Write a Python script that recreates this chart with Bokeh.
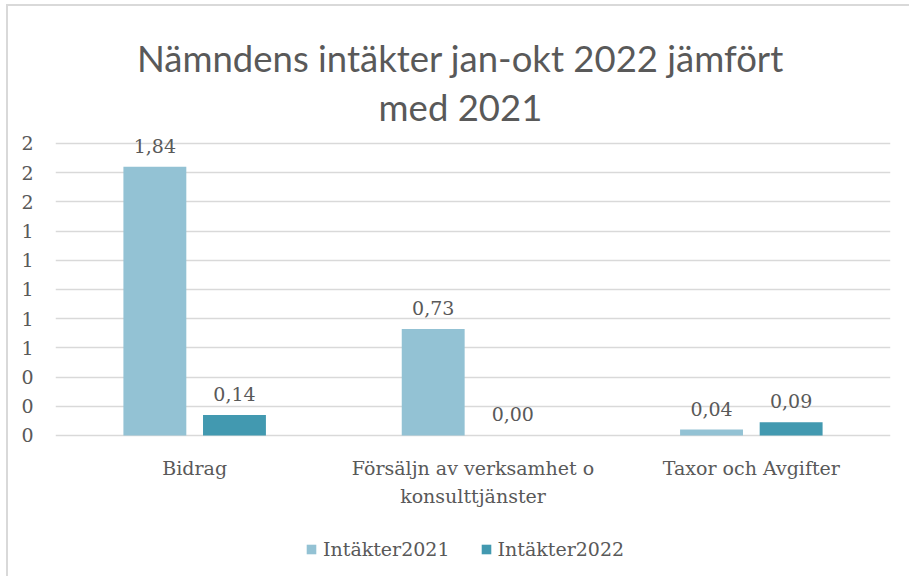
from bokeh.plotting import figure
from bokeh.models import (ColumnDataSource, FixedTicker, Range1d, Legend, LegendItem)
from bokeh.embed import file_html
from bokeh.resources import INLINE
from bokeh.core.properties import value

categories = ["Bidrag", "Försäljn av verksamhet o\nkonsulttjänster", "Taxor och Avgifter"]
series_names = ["Intäkter2021", "Intäkter2022"]
values_2021 = [1.84, 0.73, 0.04]
values_2022 = [0.14, 0.00, 0.09]
y_ticks = [0.0, 0.2, 0.4, 0.6, 0.8, 1.0, 1.2, 1.4, 1.6, 1.8, 2.0]
y_tick_labels = ["0", "0", "0", "1", "1", "1", "1", "1", "2", "2", "2"]
title_lines = ["Nämndens intäkter jan-okt 2022 jämfört", "med 2021"]

C1 = "#93C2D4"
C2 = "#4299B0"
TXT = "#595959"
GRID = "#D9D9D9"
SERIF = "DejaVu Serif"
TITLE_FONT = "Lato"
FS = "19px"

xc = [i + 0.5 for i in range(len(categories))]
off = 0.143
bw = 0.226

# The frame spans the whole canvas height: the value axis runs 0..2 in the middle,
# the space above holds the title and the space below the category labels + legend.
p = figure(frame_width=835, frame_height=570, output_backend="svg", toolbar_location=None,
           x_range=Range1d(0, 3), y_range=Range1d(-0.966, 2.938),
           min_border_left=47, min_border_right=24, min_border_top=0, min_border_bottom=0)
p.styles = {"border-left": "2px solid #D9D9D9", "border-top": "2px solid #D9D9D9",
            "margin-left": "6px", "margin-top": "4px"}
p.outline_line_color = None
p.background_fill_color = "white"
p.border_fill_color = "white"

src1 = ColumnDataSource(dict(x=[x - off for x in xc], top=values_2021,
                             lab=[f"{v:.2f}".replace(".", ",") for v in values_2021]))
src2 = ColumnDataSource(dict(x=[x + off for x in xc], top=values_2022,
                             lab=[f"{v:.2f}".replace(".", ",") for v in values_2022]))
srcc = ColumnDataSource(dict(x=xc, y=[0] * len(xc), lab=categories))

r1 = p.vbar(x="x", top="top", width=bw, bottom=0, source=src1, fill_color=C1, line_color=None)
r2 = p.vbar(x="x", top="top", width=bw, bottom=0, source=src2, fill_color=C2, line_color=None)

for src in (src1, src2):
    p.text(x="x", y="top", text="lab", source=src, text_align="center", text_baseline="bottom",
           y_offset=-14, text_font=value(SERIF), text_font_size=FS, text_color=TXT)

# category labels below the zero line
p.text(x="x", y="y", text="lab", source=srcc, text_align="center", text_baseline="top",
       y_offset=22, text_font=value(SERIF), text_font_size=FS, text_color=TXT,
       text_line_height=1.25)

# chart title, two centred lines above the value area
title_src = ColumnDataSource(dict(x=[1.455, 1.455], y=[2.0, 2.0], lab=title_lines,
                                  dy=[-85, -36]))
p.text(x="x", y="y", text="lab", y_offset="dy", source=title_src, text_align="center",
       text_baseline="alphabetic", text_font=value(TITLE_FONT), text_font_size="36.5px",
       text_color=TXT)

p.xaxis.visible = False

p.yaxis.ticker = FixedTicker(ticks=y_ticks)
p.yaxis.major_label_overrides = {t: l for t, l in zip(y_ticks, y_tick_labels)}
p.yaxis.axis_line_color = None
p.yaxis.major_tick_line_color = None
p.yaxis.minor_tick_line_color = None
p.yaxis.major_label_standoff = 16
p.yaxis.major_label_text_font = SERIF
p.yaxis.major_label_text_font_size = FS
p.yaxis.major_label_text_color = TXT

p.xgrid.grid_line_color = None
p.ygrid.grid_line_color = GRID
p.ygrid.grid_line_width = 1.5

legend = Legend(items=[LegendItem(label=series_names[0], renderers=[r1]),
                       LegendItem(label=series_names[1], renderers=[r2])],
                orientation="horizontal", location=(250, 16),
                label_text_font=SERIF, label_text_font_size=FS, label_text_color=TXT,
                glyph_width=12, glyph_height=12, label_standoff=6, spacing=30,
                border_line_color=None, background_fill_alpha=0, margin=0, padding=0)
p.add_layout(legend, "center")

open("out.html", "w").write(file_html(p, INLINE))
